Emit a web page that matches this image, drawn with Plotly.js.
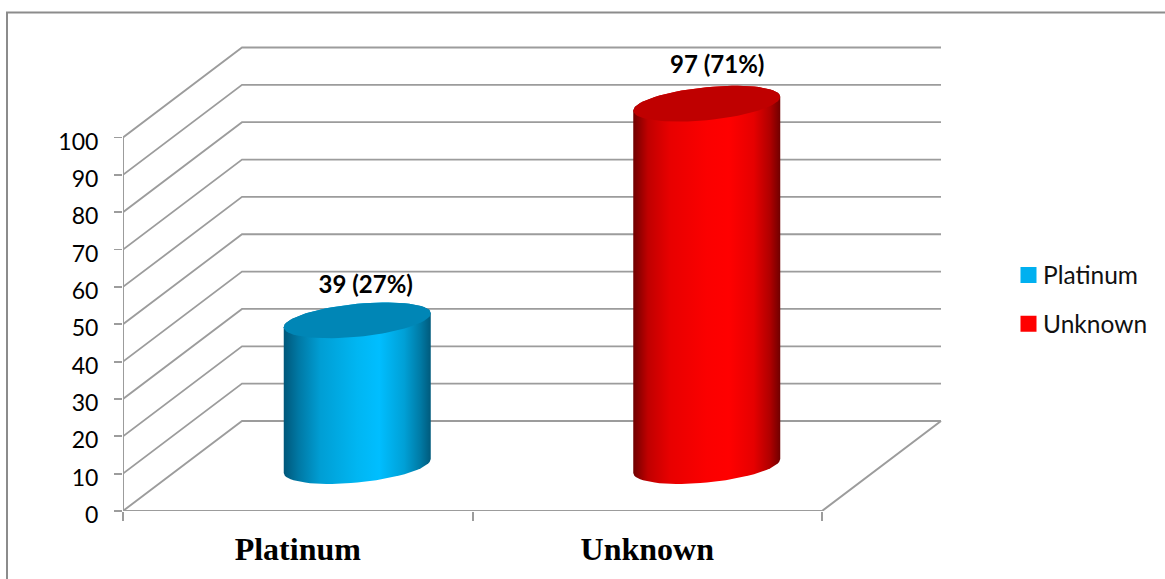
<!DOCTYPE html>
<html>
<head>
<meta charset="utf-8">
<script src="https://cdn.plot.ly/plotly-3.0.1.min.js"></script>
<style>html,body{margin:0;padding:0;background:#fff}#chart{width:1165px;height:579px}</style>
</head>
<body>
<div id="chart"></div>
<script>
// Chart data
const categories = ['Platinum', 'Unknown'];
const values = [39, 97];
const percents = [27, 71];
const valueTicks = [0, 10, 20, 30, 40, 50, 60, 70, 80, 90, 100];

// Palette per category: body shading, lid colour, legend swatch
const bodyShades = [
  [[0, '#00577a'], [0.1, '#0078a4'], [0.25, '#009ed4'], [0.5, '#00b6f2'], [0.65, '#00beff'], [0.82, '#00a0d6'], [0.93, '#007aa5'], [1, '#005a7c']],
  [[0, '#700000'], [0.1, '#c00000'], [0.25, '#e80000'], [0.5, '#fb0000'], [0.65, '#ff0000'], [0.82, '#e60000'], [0.93, '#b00000'], [1, '#700000']]
];
const lidColors = ['#0086b6', '#bf0000'];
const swatchColors = ['#00b0f0', '#ff0000'];
const gridColor = '#9c9c9c';

// Value label offsets from the lid centre (pixels)
const labelDx = [8.5, 10.5];
const labelLift = [33, 37];

// Plot-area geometry (pixels)
const W = 1165, H = 579;
const m = {l: 123, r: 220, t: 45, b: 68};
const pxPerCat = 349.5, pxPerVal = 3.735;
const xRange = [-0.5, -0.5 + (W - m.l - m.r) / pxPerCat];
const yRange = [0, (H - m.t - m.b) / pxPerVal];

// Oblique projection: depth offset of the back wall, in axis units
const depthX = 119 / pxPerCat, depthY = 90 / pxPerVal;
const xLeft = -0.5, xRight = categories.length - 0.5;

// Cylinder proportions (axis units)
const rx = 73.5 / pxPerCat, ry = 16.5 / pxPerVal, tilt = 7 / pxPerVal;

// Wall grid: one polyline per tick, along the side wall then the back wall
const gridX = [], gridY = [];
valueTicks.forEach(v => {
  gridX.push(xLeft, xLeft + depthX, xRight + depthX, null);
  gridY.push(v, v + depthY, v + depthY, null);
});

const base = {hoverinfo: 'skip', showlegend: false, cliponaxis: false, type: 'scatter'};
const traces = [];

traces.push({...base, mode: 'lines', x: gridX, y: gridY, line: {color: gridColor, width: 1.8}});
// Floor front and right edges, and the vertical value axis line
traces.push({...base, mode: 'lines',
  x: [xLeft, xRight, xRight + depthX, null, xLeft, xLeft],
  y: [0, 0, depthY, null, 0, valueTicks[valueTicks.length - 1]],
  line: {color: gridColor, width: 2}});

// Points on the cylinder's cross-section at a given height
function ringPoint(cx, cy, t) {
  return [cx + rx * Math.cos(t), cy + tilt * Math.cos(t) + ry * Math.sin(t)];
}

categories.forEach((name, i) => {
  const cx = i + depthX / 2, cyTop = values[i] + depthY / 2, cyBase = depthY / 2;
  const steps = 72;

  // Body outline: front half of the base ring, then up to the top ring's rim
  const bx = [], by = [];
  for (let k = 0; k <= steps / 2; k++) {
    const t = Math.PI + 2 * Math.PI * k / steps;
    const p = ringPoint(cx, cyBase, t);
    bx.push(p[0]); by.push(p[1]);
  }
  for (let k = 0; k <= steps / 2; k++) {
    const t = 2 * Math.PI * k / steps;
    const p = ringPoint(cx, cyTop, t);
    bx.push(p[0]); by.push(p[1]);
  }
  bx.push(bx[0]); by.push(by[0]);
  traces.push({...base, mode: 'lines', x: bx, y: by, fill: 'toself',
    line: {width: 0, color: 'rgba(0,0,0,0)'},
    fillgradient: {type: 'horizontal', colorscale: bodyShades[i], start: cx - rx, stop: cx + rx}});

  // Lid
  const lx = [], ly = [];
  for (let k = 0; k <= steps; k++) {
    const p = ringPoint(cx, cyTop, 2 * Math.PI * k / steps);
    lx.push(p[0]); ly.push(p[1]);
  }
  traces.push({...base, mode: 'lines', x: lx, y: ly, fill: 'toself',
    line: {width: 0, color: lidColors[i]}, fillcolor: lidColors[i]});

  // Value label above the lid
  traces.push({...base, mode: 'text', x: [cx + labelDx[i] / pxPerCat], y: [cyTop + labelLift[i] / pxPerVal],
    text: [values[i] + ' (' + percents[i] + '%)'], textposition: 'middle center',
    textfont: {family: 'Lato, sans-serif', size: 24, weight: 700, color: '#000'}});
});

// Legend entries
categories.forEach((name, i) => {
  traces.push({type: 'scatter', mode: 'markers', name: name, x: [null], y: [null],
    legendgroup: name, hoverinfo: 'skip', cliponaxis: false,
    marker: {symbol: 'square', size: 16, color: swatchColors[i]}});
});

const plotW = W - m.l - m.r, plotH = H - m.t - m.b;
const paperX = px => (px - m.l) / plotW;
const paperY = py => (H - m.b - py) / plotH;

const layout = {
  width: W, height: H,
  margin: m,
  paper_bgcolor: '#fff', plot_bgcolor: 'rgba(0,0,0,0)',
  showlegend: true,
  legend: {x: paperX(1003), y: paperY(252.5), xanchor: 'left', yanchor: 'top',
    traceorder: 'grouped', tracegroupgap: 14, itemclick: false, itemdoubleclick: false,
    font: {family: 'Lato, sans-serif', size: 24.5, color: '#111'}, bgcolor: 'rgba(0,0,0,0)'},
  xaxis: {
    range: xRange, showgrid: false, zeroline: false, showline: false,
    tickmode: 'array', tickvals: categories.map((c, i) => i), ticktext: categories,
    ticks: '', ticklabelstandoff: 16,
    tickfont: {family: 'Liberation Serif, serif', size: 32, weight: 700, color: '#000'},
    minor: {tickmode: 'array', tickvals: [-0.5, 0.5, 1.5], ticks: 'outside', ticklen: 9, tickwidth: 2, tickcolor: gridColor, showgrid: false}
  },
  yaxis: {
    range: yRange, showgrid: false, zeroline: false, showline: false,
    tickmode: 'array', tickvals: valueTicks, ticks: 'outside', ticklen: 8, tickwidth: 1.8, tickcolor: gridColor,
    ticklabelstandoff: 11, ticklabelshift: 4,
    tickfont: {family: 'Lato, sans-serif', size: 23, color: '#000'}
  },
  // Outer chart frame: left and top edges
  shapes: [{type: 'path', xref: 'paper', yref: 'paper',
    path: `M ${paperX(7)} ${paperY(H + 5)} L ${paperX(7)} ${paperY(12.5)} L ${paperX(W + 5)} ${paperY(12.5)}`,
    line: {color: '#8c8c8c', width: 2}, layer: 'below'}]
};

Plotly.newPlot('chart', traces, layout, {staticPlot: true, displayModeBar: false}).then(() => {
  // Bring each legend swatch closer to its label
  document.querySelectorAll('#chart .legend .legendpoints').forEach(node => {
    node.setAttribute('transform', 'translate(5.5,0)');
  });
});
</script>
</body>
</html>
